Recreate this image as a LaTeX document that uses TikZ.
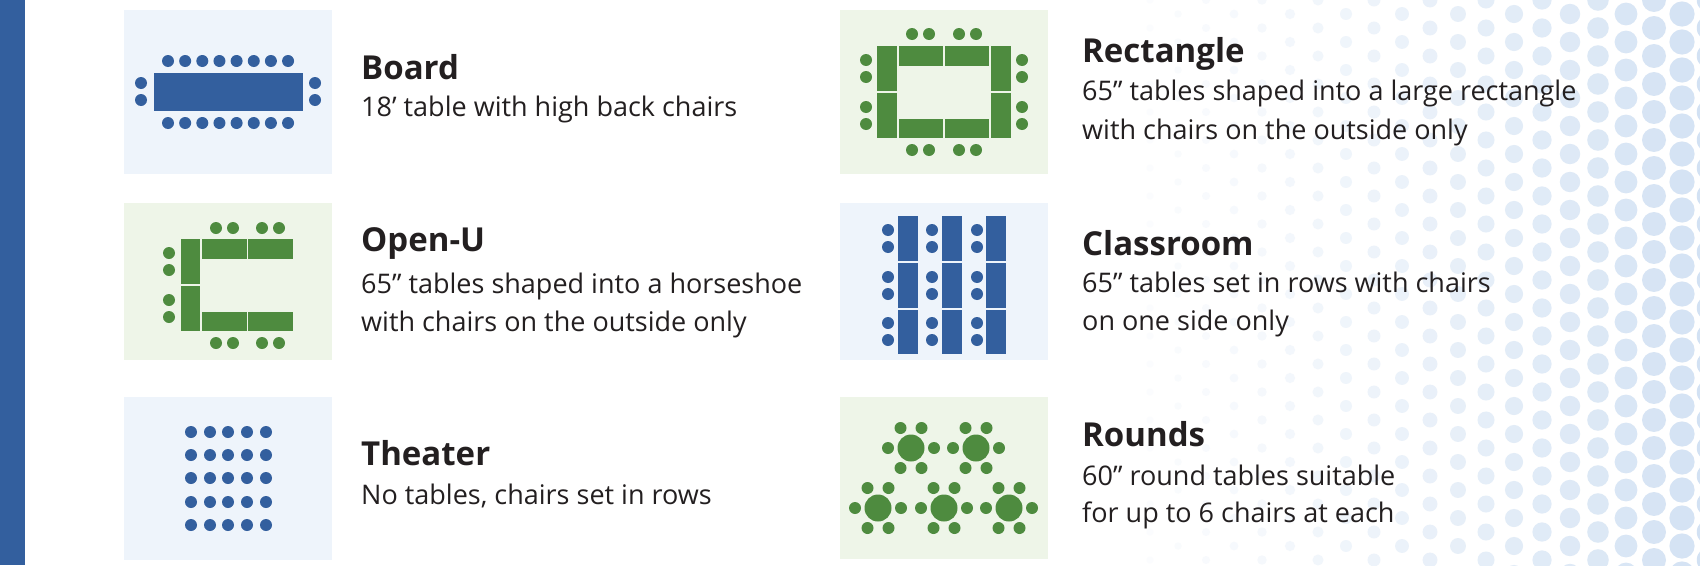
\documentclass[tikz,border=0pt]{standalone}
\usepackage{fontspec}
\setmainfont{Open Sans}
\definecolor{cblue}{HTML}{335F9E}
\definecolor{cgreen}{HTML}{4E8B3F}
\definecolor{bgblue}{HTML}{EEF4FB}
\definecolor{bggreen}{HTML}{EEF5E8}
\definecolor{dotblue}{HTML}{D3E2F3}
\definecolor{txt}{HTML}{231F20}
\begin{document}
\begin{tikzpicture}[x=1pt,y=-1pt,
  ttl/.style={anchor=base west,inner sep=0pt,text=txt,font=\fontsize{33}{38}\selectfont\bfseries},
  bdy/.style={anchor=base west,inner sep=0pt,text=txt,font=\fontsize{27}{32}\selectfont},
  bchair/.style={fill=cblue},
  gchair/.style={fill=cgreen}]
\useasboundingbox (0,0) rectangle (1700,565);
\fill[white] (0,0) rectangle (1700,565);
% halftone background
\foreach \i in {0,...,20}{
  \foreach \j in {0,...,20}{
    \pgfmathsetmacro{\xx}{1150+\i*28}
    \pgfmathsetmacro{\yy}{\j*28+mod(\i,2)*14}
    \pgfmathsetmacro{\tt}{(\xx-1150)/550}
    \pgfmathsetmacro{\rr}{3.5+9.5*\tt^1.3}
    \pgfmathsetmacro{\cc}{10+90*\tt^1.2}
    \fill[dotblue!\cc!white] (\xx,\yy) circle (\rr);
  }}
\fill[cblue] (0,0) rectangle (25,565);
% boxes
\fill[bgblue] (124,10) rectangle (332,174);
\fill[bggreen] (124,203) rectangle (332,360);
\fill[bgblue] (124,397) rectangle (332,560);
\fill[bggreen] (840,10) rectangle (1048,174);
\fill[bgblue] (840,203) rectangle (1048,360);
\fill[bggreen] (840,397) rectangle (1048,559);
% Board
\fill[cblue] (154,73) rectangle (303,111);
\foreach \k in {0,...,7}{
  \fill[bchair] (168+\k*17.15,61) circle (6);
  \fill[bchair] (168+\k*17.15,123) circle (6);}
\foreach \yy in {83,100}{
  \fill[bchair] (141,\yy) circle (6);
  \fill[bchair] (315,\yy) circle (6);}
% Open-U
\fill[cgreen] (181,239) rectangle (200,284);
\fill[cgreen] (181,286) rectangle (200,331);
\fill[cgreen] (202,239) rectangle (247,259);
\fill[cgreen] (248,239) rectangle (293,259);
\fill[cgreen] (202,312) rectangle (247,331);
\fill[cgreen] (248,312) rectangle (293,331);
\foreach \xx in {216,233,262,279}{
  \fill[gchair] (\xx,228) circle (6);
  \fill[gchair] (\xx,343) circle (6);}
\foreach \yy in {253,270,300,317}{\fill[gchair] (169,\yy) circle (6);}
% Theater
\foreach \xx in {191,210,228,247,266}{
  \foreach \yy in {432,455,478,502,525}{\fill[bchair] (\xx,\yy) circle (6);}}
% Rectangle
\fill[cgreen] (877,46) rectangle (897,91);
\fill[cgreen] (877,93) rectangle (897,138);
\fill[cgreen] (991,46) rectangle (1011,91);
\fill[cgreen] (991,93) rectangle (1011,138);
\fill[cgreen] (899,46) rectangle (943,66);
\fill[cgreen] (945,46) rectangle (989,66);
\fill[cgreen] (899,119) rectangle (943,138);
\fill[cgreen] (945,119) rectangle (989,138);
\foreach \xx in {912,929,959,976}{
  \fill[gchair] (\xx,34) circle (6);
  \fill[gchair] (\xx,150) circle (6);}
\foreach \yy in {60,77,107,124}{
  \fill[gchair] (866,\yy) circle (6);
  \fill[gchair] (1022,\yy) circle (6);}
% Classroom
\foreach \xx/\cx in {898/888,942/932,986/977}{
  \fill[cblue] (\xx,216) rectangle (\xx+20,261);
  \fill[cblue] (\xx,263) rectangle (\xx+20,308);
  \fill[cblue] (\xx,309.5) rectangle (\xx+20,354);
  \foreach \yy in {230,247,277,294,323,340}{\fill[bchair] (\cx,\yy) circle (6);}}
% Rounds
\foreach \xx/\yy in {911/448,976/448,878/508,944/508,1009/508}{
  \fill[cgreen] (\xx,\yy) circle (13.5);
  \foreach \dx/\dy in {-23/0,23/0,-10.5/-20,10.5/-20,-10.5/20,10.5/20}{
    \fill[gchair] (\xx+\dx,\yy+\dy) circle (6);}}
% texts
\node[ttl] (t1) at (361,79) {Board};
\node[bdy] (b1) at (361,116) {18’ table with high back chairs};
\node[ttl] (t2) at (361,251) {Open-U};
\node[bdy] (b2) at (361,293) {65” tables shaped into a horseshoe};
\node[bdy] (b2b) at (361,331) {with chairs on the outside only};
\node[ttl] (t3) at (361,465) {Theater};
\node[bdy] (b3) at (361,504) {No tables, chairs set in rows};
\node[ttl] (t4) at (1082,62) {Rectangle};
\node[bdy] (b4) at (1082,100) {65” tables shaped into a large rectangle};
\node[bdy] (b4b) at (1082,139) {with chairs on the outside only};
\node[ttl] (t5) at (1082,255) {Classroom};
\node[bdy] (b5) at (1082,292) {65” tables set in rows with chairs};
\node[bdy] (b5b) at (1082,330) {on one side only};
\node[ttl] (t6) at (1082,446) {Rounds};
\node[bdy] (b6) at (1082,485) {60” round tables suitable};
\node[bdy] (b6b) at (1082,522) {for up to 6 chairs at each};
\end{tikzpicture}
\end{document}
